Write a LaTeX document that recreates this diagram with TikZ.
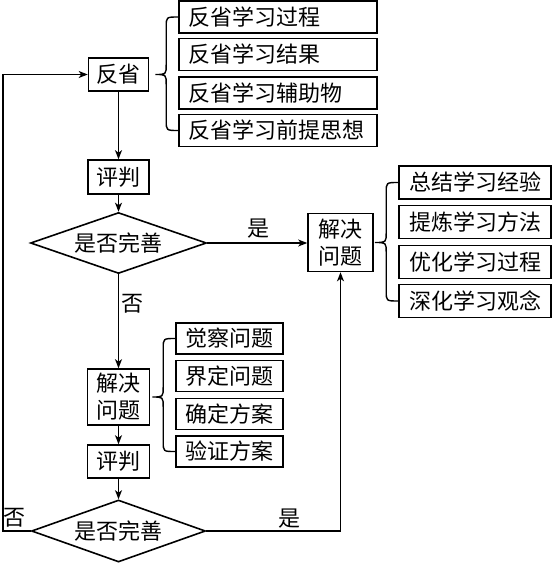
\documentclass[tikz,border=0pt]{standalone}
\usepackage{fontspec}
\newfontfamily\cjk{Noto Sans CJK SC}
\usetikzlibrary{shapes.geometric,arrows.meta,calc}
\newcommand\mybrace[4]{%
\draw[brl] let \p1=(#1.west), \p2=(#2.west), \p3=(#3.east) in
 (\p1) .. controls (\x1-12pt,\y1) .. (\x1-12pt,\y1-10pt)
 -- (\x1-12pt,\y3+10pt) .. controls (\x1-12pt,\y3) .. (\x3+#4,\y3)
 .. controls (\x1-12pt,\y3) .. (\x1-12pt,\y3-10pt)
 -- (\x1-12pt,\y2+10pt) .. controls (\x1-12pt,\y2) .. (\p2);}
\begin{document}
\begin{tikzpicture}[x=1pt,y=-1pt,
  every node/.style={font=\cjk\fontsize{22}{27}\selectfont, inner sep=0pt},
  bx/.style={draw, line width=1.6pt, align=center},
  lbx/.style={draw, line width=1.6pt, text width=180pt, inner xsep=9pt, align=left, minimum height=32pt},
  rbx/.style={draw, line width=1.6pt, minimum width=152pt, minimum height=33pt},
  mbx/.style={draw, line width=1.6pt, minimum width=107pt, minimum height=31pt},
  dia/.style={draw, diamond, aspect=2.9, line width=1.6pt, inner sep=0pt},
  arr/.style={line width=1.4pt, -{Stealth[length=9pt,width=7pt,inset=2.5pt]}},
  brl/.style={line width=1.4pt}]
\useasboundingbox (0,0) rectangle (554,564);
% left column
\node[bx, minimum width=60pt, minimum height=33pt] (fx) at (118.5,74.5) {反省};
\node[bx, minimum width=61pt, minimum height=34pt] (pj1) at (118.5,177) {评判};
\node[dia, minimum width=176pt, minimum height=61pt] (d1) at (118.5,243) {是否完善};
\node[bx, minimum width=62pt, minimum height=56pt] (jl) at (118.5,397) {解决\\问题};
\node[bx, minimum width=62pt, minimum height=33pt] (pj2) at (118.5,461.5) {评判};
\node[dia, minimum width=174pt, minimum height=62pt] (d2) at (118.5,531) {是否完善};
% top boxes
\node[lbx] (a1) at (278,17) {反省学习过程};
\node[lbx] (a2) at (278,54.5) {反省学习结果};
\node[lbx] (a3) at (278,93) {反省学习辅助物};
\node[lbx] (a4) at (278,130.5) {反省学习前提思想};
% right solve box and items
\node[bx, minimum width=65pt, minimum height=58pt] (jr) at (340.5,242.5) {解决\\问题};
\node[rbx] (r1) at (475,182.5) {总结学习经验};
\node[rbx] (r2) at (475,222) {提炼学习方法};
\node[rbx] (r3) at (475,262) {优化学习过程};
\node[rbx] (r4) at (475,301) {深化学习观念};
% middle items
\node[mbx] (m1) at (229.5,338.5) {觉察问题};
\node[mbx] (m2) at (229.5,376) {界定问题};
\node[mbx] (m3) at (229.5,414) {确定方案};
\node[mbx] (m4) at (229.5,451.5) {验证方案};
% braces
\mybrace{a1}{a4}{fx}{6pt}
\mybrace{r1}{r4}{jr}{1pt}
\mybrace{m1}{m4}{jl}{2pt}
% labels
\node (yes1) at (258,229) {是};
\node (no1) at (132,304) {否};
\node (no2) at (15,518) {否};
\node (yes2) at (289,519) {是};
% connectors
\draw[arr] (fx.south) -- (pj1.north);
\draw[arr] (pj1.south) -- (d1.north);
\draw[arr] (d1.south) -- (jl.north);
\draw[arr] (jl.south) -- (pj2.north);
\draw[arr] (pj2.south) -- (d2.north);
\draw[arr] (d1.east) -- (d1.east -| jr.west);
\draw[arr] (d2.east) -| (jr.south);
\coordinate (lx) at (3,531);
\draw[arr] (d2.west) -- (lx) |- (fx.west);
\end{tikzpicture}
\end{document}
